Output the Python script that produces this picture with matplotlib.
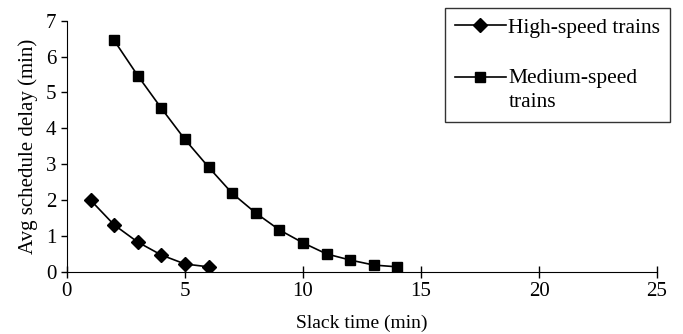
import numpy as np
import matplotlib.pyplot as plt

# slack time (min) vs average schedule delay (min)
high_x = [1, 2, 3, 4, 5, 6]
high_y = [2.0, 1.31, 0.83, 0.47, 0.22, 0.14]

med_x = [2, 3, 4, 5, 6, 7, 8, 9, 10, 11, 12, 13, 14]
med_y = [6.45, 5.47, 4.56, 3.69, 2.92, 2.19, 1.64, 1.17, 0.81, 0.5, 0.33, 0.19, 0.14]

x_ticks = [0, 5, 10, 15, 20, 25]
y_ticks = [0, 1, 2, 3, 4, 5, 6, 7]

plt.rcParams['font.family'] = ['Liberation Serif', 'DejaVu Serif']
plt.rcParams['font.size'] = 14

fig = plt.figure(figsize=(6.83, 3.34), dpi=100)
ax = fig.add_axes([0.098, 0.186, 0.864, 0.752])

ax.plot(high_x, high_y, color='black', lw=1.2, marker='D', ms=7,
        label='High-speed trains')
ax.plot(med_x, med_y, color='black', lw=1.2, marker='s', ms=7.5,
        label='Medium-speed\ntrains')

ax.set_xlim(0, 25)
ax.set_ylim(0, 7)
ax.set_xticks(x_ticks)
ax.set_yticks(y_ticks)
ax.spines['top'].set_visible(False)
ax.spines['right'].set_visible(False)
ax.tick_params(axis='x', direction='inout', length=8, width=1)
ax.tick_params(axis='y', direction='out', length=4, width=1)
ax.tick_params(labelsize=15)
ax.set_xlabel('Slack time (min)', fontsize=14, labelpad=10)
ax.set_ylabel('Avg schedule delay (min)', fontsize=15, labelpad=6)

leg = ax.legend(loc='upper right', bbox_to_anchor=(0.981, 0.976),
                bbox_transform=fig.transFigure, frameon=True, fancybox=False,
                edgecolor='black', handlelength=2.4, handletextpad=0.1,
                labelspacing=1.45, borderpad=0.45, borderaxespad=0,
                fontsize=15.5)
leg.get_frame().set_linewidth(1)
leg.get_texts()[1].set_linespacing(1.35)
# align the square handle with the first line of its two-line label
h = leg.legend_handles[1]
h.set_ydata(np.asarray(h.get_ydata()) + 9)

fig.savefig('out.png', dpi=100)
